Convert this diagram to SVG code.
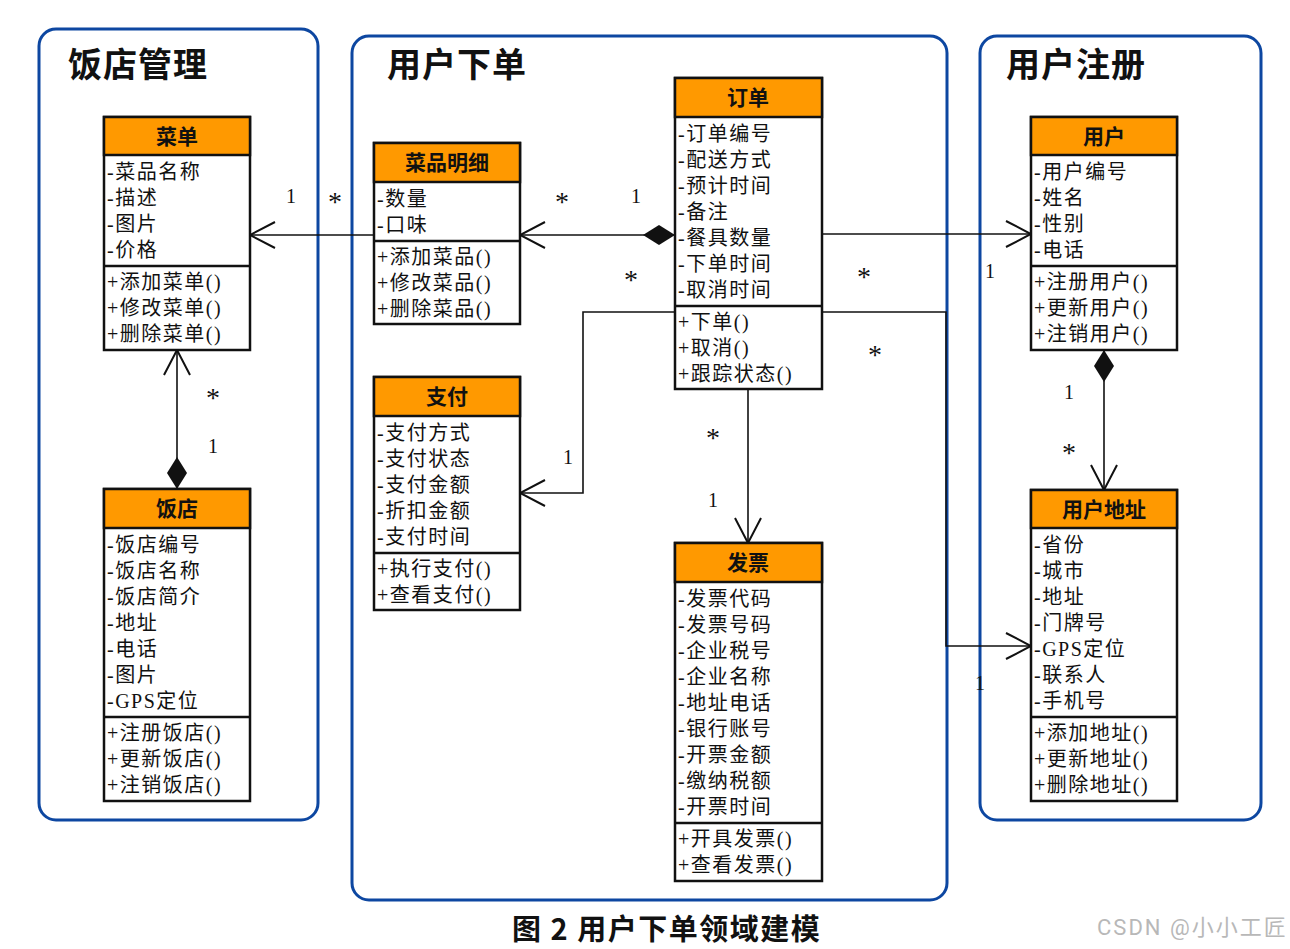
<svg xmlns="http://www.w3.org/2000/svg" width="1290" height="949" viewBox="0 0 1290 949">
<style>
.panel{fill:none;stroke:#0d47a1;stroke-width:3}
.ptitle{font-family:"Noto Sans CJK SC","Noto Sans",sans-serif;font-size:34px;font-weight:bold;fill:#111;letter-spacing:1px}
.box{fill:#fff;stroke:#111;stroke-width:2.5}
.hdr{fill:#ff9900;stroke:#111;stroke-width:2.5}
.sep{stroke:#111;stroke-width:2.5}
.htxt{font-family:"Liberation Serif","Noto Sans CJK SC",serif;font-size:21px;font-weight:bold;fill:#111;text-anchor:middle}
.txt{font-family:"Liberation Serif","Noto Sans CJK SC",serif;font-size:20px;fill:#111;letter-spacing:1.5px}
.conn{fill:none;stroke:#111;stroke-width:1.6}
.mult{font-family:"Liberation Serif","Noto Sans CJK SC",serif;font-size:20px;fill:#111;text-anchor:middle}
.star{font-family:"Liberation Serif",serif;font-size:28px;fill:#111;text-anchor:middle}
.cap{font-family:"Noto Sans CJK SC","Noto Sans",sans-serif;font-size:29px;font-weight:bold;fill:#111;letter-spacing:1.5px}
.wm{font-family:"Roboto","Noto Sans CJK SC",sans-serif;font-size:22px;fill:#b8b8b8;letter-spacing:2px}
</style>
<defs>
<marker id="arr" markerUnits="userSpaceOnUse" viewBox="-28 -16 30 32" refX="0" refY="0" markerWidth="30" markerHeight="32" orient="auto">
<path d="M-25,-13 L0,0 L-25,13" fill="none" stroke="#111" stroke-width="2"/>
</marker>
<marker id="dia" markerUnits="userSpaceOnUse" viewBox="-1 -12 34 24" refX="0" refY="0" markerWidth="34" markerHeight="24" orient="auto">
<path d="M0,0 L16,-10 L32,0 L16,10 Z" fill="#111"/>
</marker>
</defs>
<rect width="1290" height="949" fill="#fff"/>

<g id="panels">
<rect class="panel" x="39" y="29" width="279" height="791" rx="17"/>
<rect class="panel" x="352" y="36" width="595" height="864" rx="17"/>
<rect class="panel" x="980" y="36" width="281" height="784" rx="17"/>
<text class="ptitle" x="68" y="77">饭店管理</text>
<text class="ptitle" x="387" y="77">用户下单</text>
<text class="ptitle" x="1006" y="77">用户注册</text>
</g>

<g id="connectors">
<path class="conn" d="M374,235 L250,235" marker-end="url(#arr)"/>
<path class="conn" d="M675,235 L520,235" marker-start="url(#dia)" marker-end="url(#arr)"/>
<path class="conn" d="M822,234 L1031,234" marker-end="url(#arr)"/>
<path class="conn" d="M675,312 L583,312 L583,493 L520,493" marker-end="url(#arr)"/>
<path class="conn" d="M748,389 L748,543" marker-end="url(#arr)"/>
<path class="conn" d="M822,312 L946,312 L946,646 L1031,646" marker-end="url(#arr)"/>
<path class="conn" d="M1104,350 L1104,490" marker-start="url(#dia)" marker-end="url(#arr)"/>
<path class="conn" d="M177,489 L177,350" marker-start="url(#dia)" marker-end="url(#arr)"/>
<text class="mult" x="291" y="203">1</text>
<text class="star" x="335" y="211">*</text>
<text class="star" x="562" y="211">*</text>
<text class="mult" x="636" y="203">1</text>
<text class="star" x="631" y="289">*</text>
<text class="star" x="864" y="286">*</text>
<text class="mult" x="990" y="278">1</text>
<text class="star" x="875" y="364">*</text>
<text class="mult" x="568" y="464">1</text>
<text class="star" x="713" y="447">*</text>
<text class="mult" x="713" y="507">1</text>
<text class="mult" x="980" y="690">1</text>
<text class="mult" x="1069" y="399">1</text>
<text class="star" x="1069" y="462">*</text>
<text class="star" x="213" y="407">*</text>
<text class="mult" x="213" y="453">1</text>
</g>

<g id="caidan">
<rect class="box" x="104" y="117" width="146" height="233"/>
<rect class="hdr" x="104" y="117" width="146" height="38"/>
<line class="sep" x1="104" y1="266" x2="250" y2="266"/>
<text class="htxt" x="177" y="144">菜单</text>
<text class="txt" x="107" y="179">-菜品名称</text>
<text class="txt" x="107" y="205">-描述</text>
<text class="txt" x="107" y="231">-图片</text>
<text class="txt" x="107" y="257">-价格</text>
<text class="txt" x="107" y="289">+添加菜单()</text>
<text class="txt" x="107" y="315">+修改菜单()</text>
<text class="txt" x="107" y="341">+删除菜单()</text>
</g>

<g id="fandian">
<rect class="box" x="104" y="489" width="146" height="312"/>
<rect class="hdr" x="104" y="489" width="146" height="39"/>
<line class="sep" x1="104" y1="717" x2="250" y2="717"/>
<text class="htxt" x="177" y="516">饭店</text>
<text class="txt" x="107" y="552">-饭店编号</text>
<text class="txt" x="107" y="578">-饭店名称</text>
<text class="txt" x="107" y="604">-饭店简介</text>
<text class="txt" x="107" y="630">-地址</text>
<text class="txt" x="107" y="656">-电话</text>
<text class="txt" x="107" y="682">-图片</text>
<text class="txt" x="107" y="708">-GPS定位</text>
<text class="txt" x="107" y="740">+注册饭店()</text>
<text class="txt" x="107" y="766">+更新饭店()</text>
<text class="txt" x="107" y="792">+注销饭店()</text>
</g>

<g id="caipinmingxi">
<rect class="box" x="374" y="143" width="146" height="181"/>
<rect class="hdr" x="374" y="143" width="146" height="39"/>
<line class="sep" x1="374" y1="241" x2="520" y2="241"/>
<text class="htxt" x="447" y="170">菜品明细</text>
<text class="txt" x="377" y="206">-数量</text>
<text class="txt" x="377" y="232">-口味</text>
<text class="txt" x="377" y="264">+添加菜品()</text>
<text class="txt" x="377" y="290">+修改菜品()</text>
<text class="txt" x="377" y="316">+删除菜品()</text>
</g>

<g id="zhifu">
<rect class="box" x="374" y="377" width="146" height="233"/>
<rect class="hdr" x="374" y="377" width="146" height="39"/>
<line class="sep" x1="374" y1="553" x2="520" y2="553"/>
<text class="htxt" x="447" y="404">支付</text>
<text class="txt" x="377" y="440">-支付方式</text>
<text class="txt" x="377" y="466">-支付状态</text>
<text class="txt" x="377" y="492">-支付金额</text>
<text class="txt" x="377" y="518">-折扣金额</text>
<text class="txt" x="377" y="544">-支付时间</text>
<text class="txt" x="377" y="576">+执行支付()</text>
<text class="txt" x="377" y="602">+查看支付()</text>
</g>

<g id="dingdan">
<rect class="box" x="675" y="78" width="147" height="311"/>
<rect class="hdr" x="675" y="78" width="147" height="39"/>
<line class="sep" x1="675" y1="306" x2="822" y2="306"/>
<text class="htxt" x="748" y="105">订单</text>
<text class="txt" x="678" y="141">-订单编号</text>
<text class="txt" x="678" y="167">-配送方式</text>
<text class="txt" x="678" y="193">-预计时间</text>
<text class="txt" x="678" y="219">-备注</text>
<text class="txt" x="678" y="245">-餐具数量</text>
<text class="txt" x="678" y="271">-下单时间</text>
<text class="txt" x="678" y="297">-取消时间</text>
<text class="txt" x="678" y="329">+下单()</text>
<text class="txt" x="678" y="355">+取消()</text>
<text class="txt" x="678" y="381">+跟踪状态()</text>
</g>

<g id="fapiao">
<rect class="box" x="675" y="543" width="147" height="338"/>
<rect class="hdr" x="675" y="543" width="147" height="39"/>
<line class="sep" x1="675" y1="823" x2="822" y2="823"/>
<text class="htxt" x="748" y="570">发票</text>
<text class="txt" x="678" y="606">-发票代码</text>
<text class="txt" x="678" y="632">-发票号码</text>
<text class="txt" x="678" y="658">-企业税号</text>
<text class="txt" x="678" y="684">-企业名称</text>
<text class="txt" x="678" y="710">-地址电话</text>
<text class="txt" x="678" y="736">-银行账号</text>
<text class="txt" x="678" y="762">-开票金额</text>
<text class="txt" x="678" y="788">-缴纳税额</text>
<text class="txt" x="678" y="814">-开票时间</text>
<text class="txt" x="678" y="846">+开具发票()</text>
<text class="txt" x="678" y="872">+查看发票()</text>
</g>

<g id="yonghu">
<rect class="box" x="1031" y="117" width="146" height="233"/>
<rect class="hdr" x="1031" y="117" width="146" height="38"/>
<line class="sep" x1="1031" y1="266" x2="1177" y2="266"/>
<text class="htxt" x="1104" y="144">用户</text>
<text class="txt" x="1034" y="179">-用户编号</text>
<text class="txt" x="1034" y="205">-姓名</text>
<text class="txt" x="1034" y="231">-性别</text>
<text class="txt" x="1034" y="257">-电话</text>
<text class="txt" x="1034" y="289">+注册用户()</text>
<text class="txt" x="1034" y="315">+更新用户()</text>
<text class="txt" x="1034" y="341">+注销用户()</text>
</g>

<g id="yonghudizhi">
<rect class="box" x="1031" y="490" width="146" height="311"/>
<rect class="hdr" x="1031" y="490" width="146" height="38"/>
<line class="sep" x1="1031" y1="717" x2="1177" y2="717"/>
<text class="htxt" x="1104" y="517">用户地址</text>
<text class="txt" x="1034" y="552">-省份</text>
<text class="txt" x="1034" y="578">-城市</text>
<text class="txt" x="1034" y="604">-地址</text>
<text class="txt" x="1034" y="630">-门牌号</text>
<text class="txt" x="1034" y="656">-GPS定位</text>
<text class="txt" x="1034" y="682">-联系人</text>
<text class="txt" x="1034" y="708">-手机号</text>
<text class="txt" x="1034" y="740">+添加地址()</text>
<text class="txt" x="1034" y="766">+更新地址()</text>
<text class="txt" x="1034" y="792">+删除地址()</text>
</g>

<g id="caption">
<text class="cap" x="512" y="940">图 2 用户下单领域建模</text>
<text class="wm" x="1097" y="935">CSDN @小小工匠</text>
</g>
</svg>
